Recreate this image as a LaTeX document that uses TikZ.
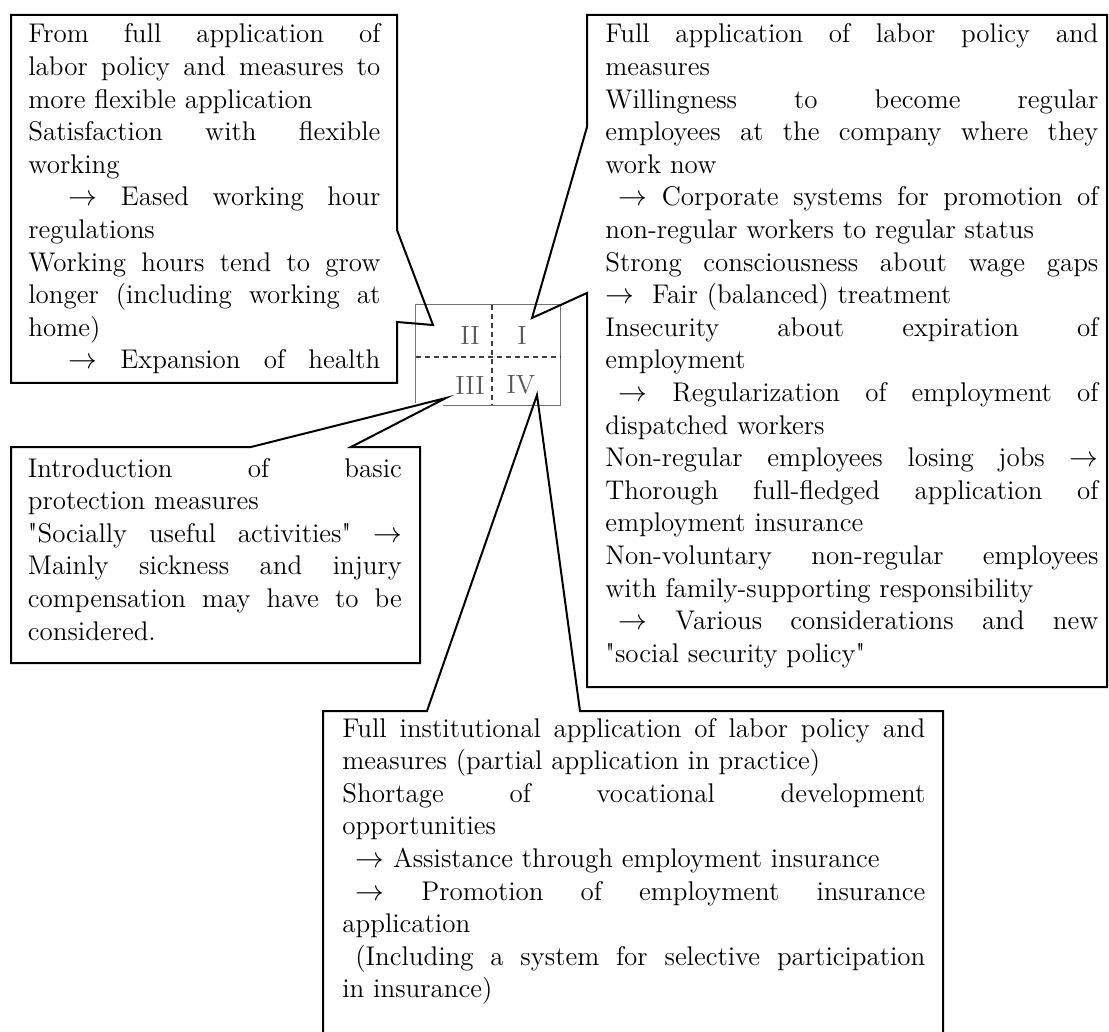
\documentclass[tikz,border=0pt]{standalone}
\usepackage{fontspec}

\begin{document}
\begin{tikzpicture}[
  x=0.5pt, y=-0.5pt,
  note text/.style={
    anchor=base west,
    inner sep=0pt,
    text width=#1,
    align=justify,
    font=\fontsize{13.5}{16.3}\selectfont,
  },
  callout/.style={
    draw,
    line width=1pt,
    line join=miter,
  },
  quad frame/.style={
    draw=black!55,
    line width=0.8pt,
  },
  quad dash/.style={
    quad frame,
    draw=black!75,
    dash pattern=on 2.5pt off 2pt,
  },
  quad label/.style={
    text=black!65,
    inner sep=0pt,
    font=\fontsize{13.2}{16}\selectfont,
  },
  ]
  \useasboundingbox (0,0) rectangle (1109,1032);

  \node[minimum width=72pt,minimum height=50pt,inner sep=0pt] (quad) at (488,355) {};
  \path (quad.south west) ++(27,0) coordinate (q0)
        (quad.south west) ++(0,-2) coordinate (q1);
  \draw[quad frame] (q0) -- (quad.south east) -- (quad.north east)
    -- (quad.north west) -- (q1);
  \draw[quad dash] ([xshift=2pt]quad.north) -- ([xshift=2pt]quad.south)
    ([yshift=-1pt]quad.west) -- ([yshift=-1pt]quad.east);

  \node[quad label] (r1) at (522,335) {I};
  \node[quad label] (r2) at (470,335) {II};
  \node[quad label] (r3) at (470,385) {III};
  \node[quad label] (r4) at (521,385) {IV};

  \path (quad.center) ++(44,-37) coordinate (tip1)
        (quad.center) ++(-55,-30) coordinate (tip2)
        (quad.center) ++(-42,43) coordinate (tip3)
        (quad.center) ++(49,40) coordinate (tip4);

  \draw[callout] (11,15) -- (397,15) -- (397,230) -- (tip2) -- (397,322)
    -- (397,383) -- (11,383) -- cycle;
  \draw[callout] (587,15) -- (1107,15) -- (1107,687) -- (587,687)
    -- (587,293) -- (tip1) -- (587,127) -- cycle;
  \draw[callout] (11,447) -- (251,447) -- (tip3) -- (351,447)
    -- (420,447) -- (420,663) -- (11,663) -- cycle;
  \draw[callout] (323,711) -- (427,711) -- (tip4) -- (580,711)
    -- (943,711) -- (943,1045) -- (323,1045) -- cycle;

  \node[note text=176pt] (n2) at (28,43) {
    From full application of\linebreak
    labor policy and measures to\linebreak
    more flexible application\newline
    Satisfaction with flexible\linebreak
    working\newline
    \hspace*{20pt}$\rightarrow$ Eased working hour\linebreak
    regulations\newline
    Working hours tend to grow\linebreak
    longer (including working at\linebreak
    home)\newline
    \hspace*{20pt}$\rightarrow$ Expansion of health{\parfillskip=0pt\par}
  };

  \node[note text=246.5pt] (n1) at (605,43) {
    Full application of labor policy and\linebreak
    measures\newline
    Willingness to become regular\linebreak
    employees at the company where they\linebreak
    work now\newline
    \hspace*{6.5pt}$\rightarrow$ Corporate systems for promotion of\linebreak
    non-regular workers to regular status\newline
    Strong consciousness about wage gaps\linebreak
    $\rightarrow$\hspace{9pt}Fair (balanced) treatment\newline
    Insecurity about expiration of\linebreak
    employment\newline
    \hspace*{6.5pt}$\rightarrow$ Regularization of employment of\linebreak
    dispatched workers\newline
    Non-regular employees losing jobs $\rightarrow$\linebreak
    Thorough full-fledged application of\linebreak
    employment insurance\newline
    Non-voluntary non-regular employees\linebreak
    with family-supporting responsibility\newline
    \hspace*{6.5pt}$\rightarrow$ Various considerations and new\linebreak
    \textquotedbl social security policy\textquotedbl
  };

  \node[note text=187pt] (n3) at (27.5,477) {
    Introduction of basic\linebreak
    protection measures\newline
    \textquotedbl Socially useful activities\textquotedbl\ $\rightarrow$\linebreak
    Mainly sickness and injury\linebreak
    compensation may have to be\linebreak
    considered.
  };

  \node[note text=291.5pt] (n4) at (342,737) {
    Full institutional application of labor policy and\linebreak
    measures (partial application in practice)\newline
    Shortage of vocational development\linebreak
    opportunities\newline
    \hspace*{6.5pt}$\rightarrow$ Assistance through employment insurance\newline
    \hspace*{6.5pt}$\rightarrow$ Promotion of employment insurance\linebreak
    application\newline
    \hspace*{6.5pt}(Including a system for selective participation\linebreak
    in insurance)
  };
\end{tikzpicture}
\end{document}
